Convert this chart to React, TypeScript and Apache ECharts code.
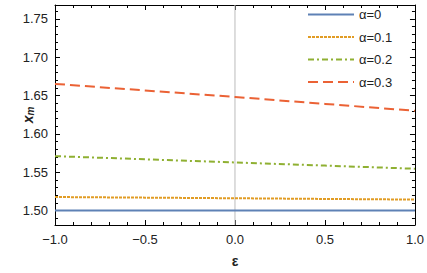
import React, { useEffect, useRef } from "react";
import * as echarts from "echarts";

const epsilon = [-1, -0.5, 0, 0.5, 1];
const alpha0 = [1.5, 1.5, 1.5, 1.5, 1.5];
const alpha01 = [1.5175, 1.5167, 1.5159, 1.515, 1.5142];
const alpha02 = [1.5708, 1.5667, 1.5626, 1.5585, 1.5544];
const alpha03 = [1.6651, 1.6565, 1.648, 1.639, 1.630];
const seriesNames = ["α=0", "α=0.1", "α=0.2", "α=0.3"];
const yMajor = [1.5, 1.55, 1.6, 1.65, 1.7, 1.75];
const yMinor = [1.49, 1.51, 1.52, 1.53, 1.54, 1.56, 1.57, 1.58, 1.59, 1.61, 1.62, 1.63, 1.64, 1.66, 1.67, 1.68, 1.69, 1.71, 1.72, 1.73, 1.74, 1.76];

const Y_MIN = 1.481;
const Y_MAX = 1.768;
const FONT = "Liberation Sans, Arial, sans-serif";

export default function App() {
  const ref = useRef<HTMLDivElement>(null);
  useEffect(() => {
    document.body.style.margin = "0";
    const chart = echarts.init(ref.current!, null, { renderer: "svg" });
    const pair = (ys: number[]) => epsilon.map((x, i) => [x, ys[i]]);
    const xBase = {
      type: "value",
      min: -1,
      max: 1,
      interval: 0.5,
      splitLine: { show: false },
      axisLine: { show: true, onZero: false, lineStyle: { color: "#000", width: 1 } },
      axisTick: { show: true, inside: true, length: 5, lineStyle: { color: "#000" } },
      minorTick: { show: true, splitNumber: 5, length: 3, lineStyle: { color: "#000" } },
    };
    const yBase = (pos: string, vals: number[], len: number, labels: boolean, line: boolean) => ({
      type: "value",
      position: pos,
      min: Y_MIN,
      max: Y_MAX,
      splitLine: { show: false },
      axisLine: { show: line, onZero: false, lineStyle: { color: "#000", width: 1 } },
      axisTick: { show: true, inside: true, length: len, customValues: vals, lineStyle: { color: "#000" } },
      axisLabel: labels
        ? {
            show: true,
            customValues: yMajor,
            formatter: (v: number) => v.toFixed(2),
            color: "#222",
            fontSize: 13,
            fontFamily: FONT,
            margin: 7,
          }
        : { show: false },
    });
    const colors = ["#5E81B5", "#E19C24", "#8FB032", "#EB6235"];
    const types: any[] = ["solid", [3, 1], [6, 3, 2, 3], [10, 5]];
    const data = [alpha0, alpha01, alpha02, alpha03];
    chart.setOption({
      animation: false,
      grid: { left: 55, right: 11, top: 5, bottom: 45, containLabel: false },
      legend: {
        orient: "vertical",
        left: 302,
        top: 3,
        itemWidth: 46,
        itemHeight: 10,
        itemGap: 9.5,
        itemStyle: { opacity: 0 },
        textStyle: { fontSize: 13, fontFamily: FONT, color: "#222" },
        data: seriesNames,
      },
      xAxis: [
        {
          ...xBase,
          position: "bottom",
          name: "ε",
          nameLocation: "middle",
          nameGap: 29,
          nameMoveOverlap: false,
          nameTextStyle: { fontSize: 14, fontWeight: "bold", fontFamily: FONT, color: "#222" },
          axisLabel: {
            color: "#222",
            fontSize: 13,
            fontFamily: FONT,
            margin: 8,
            formatter: (v: number) => (v < 0 ? "−" + Math.abs(v).toFixed(1) : v.toFixed(1)),
          },
        },
        { ...xBase, position: "top", axisLabel: { show: false } },
      ],
      yAxis: [
        {
          ...yBase("left", yMajor, 5, true, true),
          name: "{x|x}{m|m}",
          nameLocation: "middle",
          nameRotate: 90,
          nameGap: 20,
          nameMoveOverlap: false,
          nameTextStyle: {
            rich: {
              x: { fontSize: 14, fontWeight: "bold", fontStyle: "italic", fontFamily: FONT, color: "#222" },
              m: { fontSize: 10, fontWeight: "bold", fontStyle: "italic", fontFamily: FONT, color: "#222", padding: [5, 0, 0, 0] },
            },
          },
        },
        yBase("left", yMinor, 3, false, false),
        yBase("right", yMajor, 5, false, true),
        yBase("right", yMinor, 3, false, false),
      ],
      series: [
        {
          name: "axis0",
          type: "line",
          data: [
            [0, Y_MIN],
            [0, Y_MAX],
          ],
          symbol: "none",
          silent: true,
          lineStyle: { color: "#bcbcbc", width: 1, type: "solid" },
          z: 1,
        },
        ...data.map((d, i) => ({
          name: seriesNames[i],
          type: "line",
          data: pair(d),
          symbol: "none",
          xAxisIndex: 0,
          yAxisIndex: 0,
          lineStyle: { color: colors[i], width: 2, type: types[i] },
          itemStyle: { color: colors[i] },
          z: 3 + i,
        })),
      ],
    });
    return () => chart.dispose();
  }, []);
  return <div ref={ref} style={{ width: 427, height: 273 }} />;
}
